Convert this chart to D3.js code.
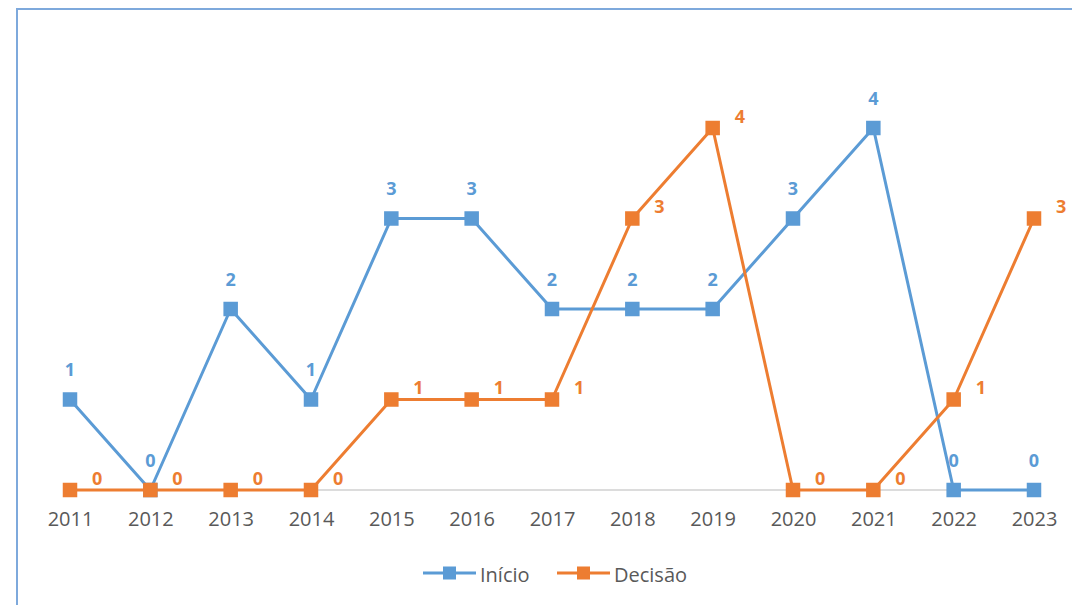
<!DOCTYPE html>
<html>
<head>
<meta charset="utf-8">
<script src="https://cdn.jsdelivr.net/npm/d3@7"></script>
<style>
  body { margin: 0; background: #fff; }
  text { font-family: "Open Sans", "Noto Sans", sans-serif; }
</style>
</head>
<body>
<div id="main"></div>
<script>
const years = [2011, 2012, 2013, 2014, 2015, 2016, 2017, 2018, 2019, 2020, 2021, 2022, 2023];
const inicio = [1, 0, 2, 1, 3, 3, 2, 2, 2, 3, 4, 0, 0];
const decisao = [0, 0, 0, 0, 1, 1, 1, 3, 4, 0, 0, 1, 3];
const seriesNames = ["Início", "Decisão"];

const ctx = {
    w: 1072,
    h: 605,
    BLUE: "#5b9bd5",
    ORANGE: "#ed7d31",
    MARK: 14.5,
    STROKE_W: 3
};

function createViz(){
    let svg = d3.select("#main").append("svg")
        .attr("width", ctx.w)
        .attr("height", ctx.h);

    // chart frame (runs off the right and bottom of the picture)
    svg.append("rect")
        .attr("x", 17).attr("y", 9)
        .attr("width", 1100).attr("height", 700)
        .attr("fill", "none")
        .attr("stroke", "#7ea9dc")
        .attr("stroke-width", 2);

    let xScale = d3.scalePoint().domain(years).range([70, 1034]);
    let yScale = d3.scaleLinear().domain([0, 4]).range([490, 128]);

    // baseline axis
    let axisG = svg.append("g")
        .attr("transform", `translate(0,${yScale(0)})`)
        .call(d3.axisBottom(xScale).tickSize(0).tickPadding(22).tickFormat(d3.format("d")));
    axisG.select(".domain").remove();
    axisG.append("line")
        .attr("x1", 64).attr("x2", 1040)
        .attr("stroke", "#d0d0d0").attr("stroke-width", 1.5);
    axisG.selectAll("text")
        .attr("fill", "#595959")
        .style("font-size", "20px");

    let lineGen = d3.line()
        .x((d) => xScale(d.year))
        .y((d) => yScale(d.v));

    let series = [
        { name: seriesNames[0], vals: inicio, color: ctx.BLUE },
        { name: seriesNames[1], vals: decisao, color: ctx.ORANGE }
    ];

    series.forEach((s, k) => {
        let pts = years.map((y, i) => ({ year: y, v: s.vals[i] }));
        let g = svg.append("g");
        g.append("path")
            .datum(pts)
            .attr("d", lineGen)
            .attr("fill", "none")
            .attr("stroke", s.color)
            .attr("stroke-width", ctx.STROKE_W)
            .attr("stroke-linejoin", "round");
        g.selectAll("rect")
            .data(pts)
            .enter()
            .append("rect")
            .attr("x", (d) => xScale(d.year) - ctx.MARK / 2)
            .attr("y", (d) => yScale(d.v) - ctx.MARK / 2)
            .attr("width", ctx.MARK)
            .attr("height", ctx.MARK)
            .attr("fill", s.color);
        // value labels: above for Início, to the right for Decisão
        g.selectAll("text")
            .data(pts)
            .enter()
            .append("text")
            .attr("x", (d) => xScale(d.year) + (k == 0 ? 0 : 22))
            .attr("y", (d) => yScale(d.v) + (k == 0 ? -23.5 : -5.5))
            .attr("text-anchor", k == 0 ? "middle" : "start")
            .attr("fill", s.color)
            .style("font-size", "18px")
            .style("font-weight", "bold")
            .text((d) => d.v);
    });

    // legend
    let leg = svg.append("g").attr("transform", "translate(0,573)");
    let legX = [423, 557];
    series.forEach((s, k) => {
        let lg = leg.append("g").attr("transform", `translate(${legX[k]},0)`);
        lg.append("line")
            .attr("x1", 0).attr("x2", 53)
            .attr("stroke", s.color).attr("stroke-width", ctx.STROKE_W);
        lg.append("rect")
            .attr("x", 26.5 - 6.5).attr("y", -6.5)
            .attr("width", 13).attr("height", 13)
            .attr("fill", s.color);
        lg.append("text")
            .attr("x", 57).attr("y", 9)
            .attr("fill", "#595959")
            .style("font-size", "20px")
            .text(s.name);
    });
}

createViz();
</script>
</body>
</html>
